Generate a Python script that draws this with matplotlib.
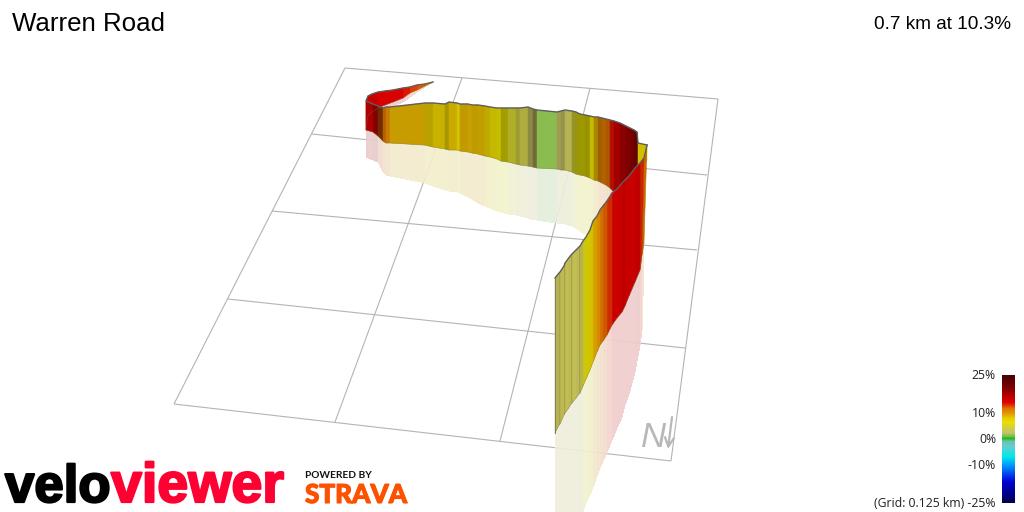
import matplotlib
matplotlib.use('Agg')
import matplotlib.pyplot as plt
import matplotlib.patheffects as pe
import numpy as np
from matplotlib.colors import LinearSegmentedColormap

title = "Warren Road"
summary = "0.7 km at 10.3%"
scale_ticks = [25, 10, 0, -10, -25]
scale_labels = ["25%", "10%", "0%", "-10%", "(Grid: 0.125 km) -25%"]

# grid line end points
grid_x0 = [345, 312, 272, 228, 174, 345, 462, 590, 718]
grid_y0 = [68, 134, 211, 299, 404, 68, 78, 88, 99]
grid_x1 = [718, 707, 697, 685, 671, 174, 335, 500, 671]
grid_y1 = [99, 175, 250, 348, 461, 404, 422, 441, 461]

# far ribbon: from the start tip round the bend to the hairpin
far_x = [433, 425, 417, 410, 403, 393, 385, 378, 372, 368, 366, 373, 378, 383, 386,
         390, 425, 433, 445, 449, 457, 460, 468, 472, 478, 485, 490, 497, 501, 508, 516, 520, 528, 533, 537,
         557, 561, 565, 572, 576, 580, 585, 590, 594, 598, 602, 606, 610, 614, 620, 626, 630, 634, 637, 638, 647]
far_top = [82, 84, 85, 87, 88, 90, 91, 92, 94, 96, 101, 104, 106, 108, 107,
           107, 103, 103, 104, 102, 103, 104, 104, 105, 105, 106, 107, 108, 108, 108, 108, 108, 107, 109, 110,
           112, 111, 110, 111, 112, 114, 115, 116, 117, 117, 118, 119, 120, 121, 123, 126, 128, 130, 132, 143, 145]
far_bot = [82, 86, 90, 93, 98, 102, 105, 108, 112, 115, 130, 132, 136, 141, 143,
           143, 145, 147, 149, 150, 150, 151, 152, 153, 154, 156, 157, 159, 161, 162, 164, 165, 166, 167, 168,
           169, 170, 170, 172, 174, 175, 176, 178, 180, 181, 183, 185, 188, 192, 196, 200, 200, 200, 200, 175, 160]
far_shadow = [82, 87, 92, 97, 102, 106, 109, 112, 115, 118, 157, 160, 162, 172, 175,
              176, 183, 186, 190, 191, 192, 193, 197, 199, 203, 206, 208, 211, 212, 214, 215, 216, 218, 220, 220,
              223, 224, 224, 226, 228, 231, 234, 237, 240, 240, 240, 240, 240, 240, 240, 240, 240, 240, 240, 175, 160]
far_grade = [11.5, 12.5, 13, 14, 15, 15, 15, 16, 16, 16, 17, 19, 12.5, 11.5, 11,
             9, 8.3, 8.2, 8, 8.5, 7.8, 9, 8.8, 8.8, 8.8, 8, 7.2, 6.8, 6.5, 5, 4.5, 4, 3, 3, 1.5,
             2.8, 3, 3.2, 5, 6, 6.5, 6.5, 7, 9, 11, 11.5, 12, 14, 17, 19, 20, 21, 21, 15, 7.5]
far_light = [1, 1, 1, 1, 1, 1, 1, 1, 1, 1, .95, .9, .5, .8, .9,
             .87, .8, .87, .72, .88, .92, .85, .87, .84, .85, .82, .85, .86, .7, .82, .75, .85, .7, .55, .98,
             .8, .75, .9, .7, .68, .68, .65, .85, .75, .72, .8, .78, .8, .9, .95, 1, 1, .9, .5, .9]

# near ribbon: from the hairpin down towards the viewer
near_x_top = [647, 644, 640, 635, 629, 625, 622, 617, 612, 607, 603, 600, 597, 593, 590, 586, 583,
              580, 579, 576, 572, 571, 568, 565, 564, 560, 559, 555]
near_top = [145, 158, 163, 168, 176, 180, 183, 189, 193, 201, 206, 210, 216, 221, 230, 237, 241,
            246, 247, 250, 254, 255, 259, 263, 266, 272, 273, 278]
near_x_bot = [644, 642, 640, 635, 629, 625, 622, 617, 612, 607, 603, 600, 597, 593, 590, 586, 583,
              580, 579, 576, 572, 571, 568, 565, 564, 560, 559, 555]
near_bot = [243, 255, 270, 282, 296, 306, 312, 318, 325, 335, 341, 345, 352, 362, 370, 379, 386,
            393, 394, 398, 403, 404, 409, 413, 415, 424, 425, 433]
near_shadow = [262, 330, 345, 372, 394, 405, 417, 428, 440, 452, 461, 468, 476, 487, 495, 503, 512,
               520, 522, 530, 545, 548, 560, 570, 575, 590, 595, 610]
near_grade = [11.5, 13.5, 16, 15.6, 15.3, 15.8, 15.3, 14.7, 13.4, 12.4, 11.6, 10.5, 9.5, 8, 7, 6, 3.8,
              3, 3.4, 3.6, 3, 3.4, 3.6, 3, 3.5, 3, 3.4]
near_light = [.88, .9, .95, .97, .95, .92, .95, .92, .92, .92, .92, .95, .95, .92, .9, .9, .9,
              .8, .93, .95, .8, .93, .95, .8, .93, .8, .9]

# colour scale of the gradient
scale_grade = [-25, -17, -14, -10, -7, -3, -1, 0.3, 1, 2.5, 4.5, 6.5, 8, 10, 12, 14.5, 16.6, 20, 25]
scale_color = ['#000050', '#0000d0', '#0040f0', '#00a0ff', '#00e8e8', '#60d0d0', '#70c0b0', '#10c010',
               '#70c040', '#c8c070', '#d0d040', '#e8e000', '#e8d000', '#e09a00', '#e07000', '#e00000',
               '#c00000', '#800000', '#4a0000']

cmap = LinearSegmentedColormap.from_list(
    'grade', [((g + 25) / 50, c) for g, c in zip(scale_grade, scale_color)], N=512)

fig = plt.figure(figsize=(10.24, 5.12), dpi=100, facecolor='white')
ax = fig.add_axes([0, 0, 1, 1])
ax.set_xlim(0, 1024)
ax.set_ylim(512, 0)
ax.axis('off')


def grade_color(g):
    return np.array(cmap((g + 25) / 50))[:3]


for x0, y0, x1, y1 in zip(grid_x0, grid_y0, grid_x1, grid_y1):
    ax.plot([x0, x1], [y0, y1], color='#b4b4b4', lw=.8, zorder=1, solid_capstyle='butt')


def ribbon(xt, yt, xb, yb, ys, grades, lights, z):
    for i, g in enumerate(grades):
        c = grade_color(g)
        # pale reflection below the wall, lets the grid faintly through
        ax.fill([xb[i], xb[i + 1], xb[i + 1], xb[i]], [yb[i], yb[i + 1], ys[i + 1], ys[i]],
                color=tuple(c * .17 + .8), alpha=.92, lw=0, antialiased=False, zorder=z)
    for i, g in enumerate(grades):
        c = grade_color(g) * lights[i]
        ax.fill([xt[i], xt[i + 1], xb[i + 1], xb[i]], [yt[i], yt[i + 1], yb[i + 1], yb[i]],
                facecolor=tuple(c), edgecolor=tuple(c), lw=.35, zorder=z + .1)
    ax.plot(xb, yb, color='#707040', lw=.5, alpha=.45, zorder=z + .2)
    ax.plot(xt, yt, color='#5e5e5e', lw=1.0, zorder=z + .3)


ribbon(far_x, far_top, far_x, far_bot, far_shadow, far_grade, far_light, 2)
ribbon(near_x_top, near_top, near_x_bot, near_bot, near_shadow, near_grade, near_light, 3)
ax.plot([near_x_top[-1], near_x_bot[-1]], [near_top[-1], near_bot[-1]], color='#808050', lw=.7, zorder=3.4)

# colour bar
bar_grades = np.linspace(25, -25, 128)
ax.pcolormesh([1002, 1015], np.linspace(375, 503, 129), ((bar_grades + 25) / 50)[:, None],
              cmap=cmap, vmin=0, vmax=1, zorder=4)
for t, lab in zip(scale_ticks, scale_labels):
    ax.text(996, 375 + (25 - t) * 2.56 + 0.5, lab, ha='right', va='center', fontsize=8.8,
            family='Open Sans', color='#202020', zorder=5)

ax.text(12, 31, title, fontsize=18.6, family='Liberation Sans', color='black', va='baseline', zorder=5)
ax.text(1011, 29, summary, fontsize=13.7, family='Liberation Sans', color='black', ha='right', va='baseline', zorder=5)

# north marker
ax.text(641, 447, 'N', fontsize=25, family=['Liberation Sans Narrow', 'Liberation Sans'], style='italic',
        color='#b8b8b8', va='baseline', zorder=5)
ax.annotate('', xy=(668, 449), xytext=(672, 417),
            arrowprops=dict(arrowstyle='->', color='#b8b8b8', lw=1.6, mutation_scale=16,
                            shrinkA=0, shrinkB=0), zorder=5)

# logos
stroke_k = [pe.withStroke(linewidth=1.6, foreground='black')]
stroke_r = [pe.withStroke(linewidth=1.6, foreground='#ff0033')]
stroke_o = [pe.withStroke(linewidth=.8, foreground='#fc5200')]
ax.text(5, 502, 'velo', fontsize=38, family='Liberation Sans', weight='bold', color='black',
        va='baseline', zorder=5, path_effects=stroke_k)
ax.text(111, 502, 'viewer', fontsize=40, family='Liberation Sans', weight='bold', color='#ff0033',
        va='baseline', zorder=5, path_effects=stroke_r)
ax.text(305, 478, 'POWERED BY', fontsize=7.3, family='Lato', weight='bold', color='#111111', va='baseline', zorder=5)
ax.text(305, 503, 'STRAVA', fontsize=18.8, family='Lato', weight='black', color='#fc5200', va='baseline',
        zorder=5, path_effects=stroke_o)

fig.savefig('out.png', dpi=100, facecolor='white')
